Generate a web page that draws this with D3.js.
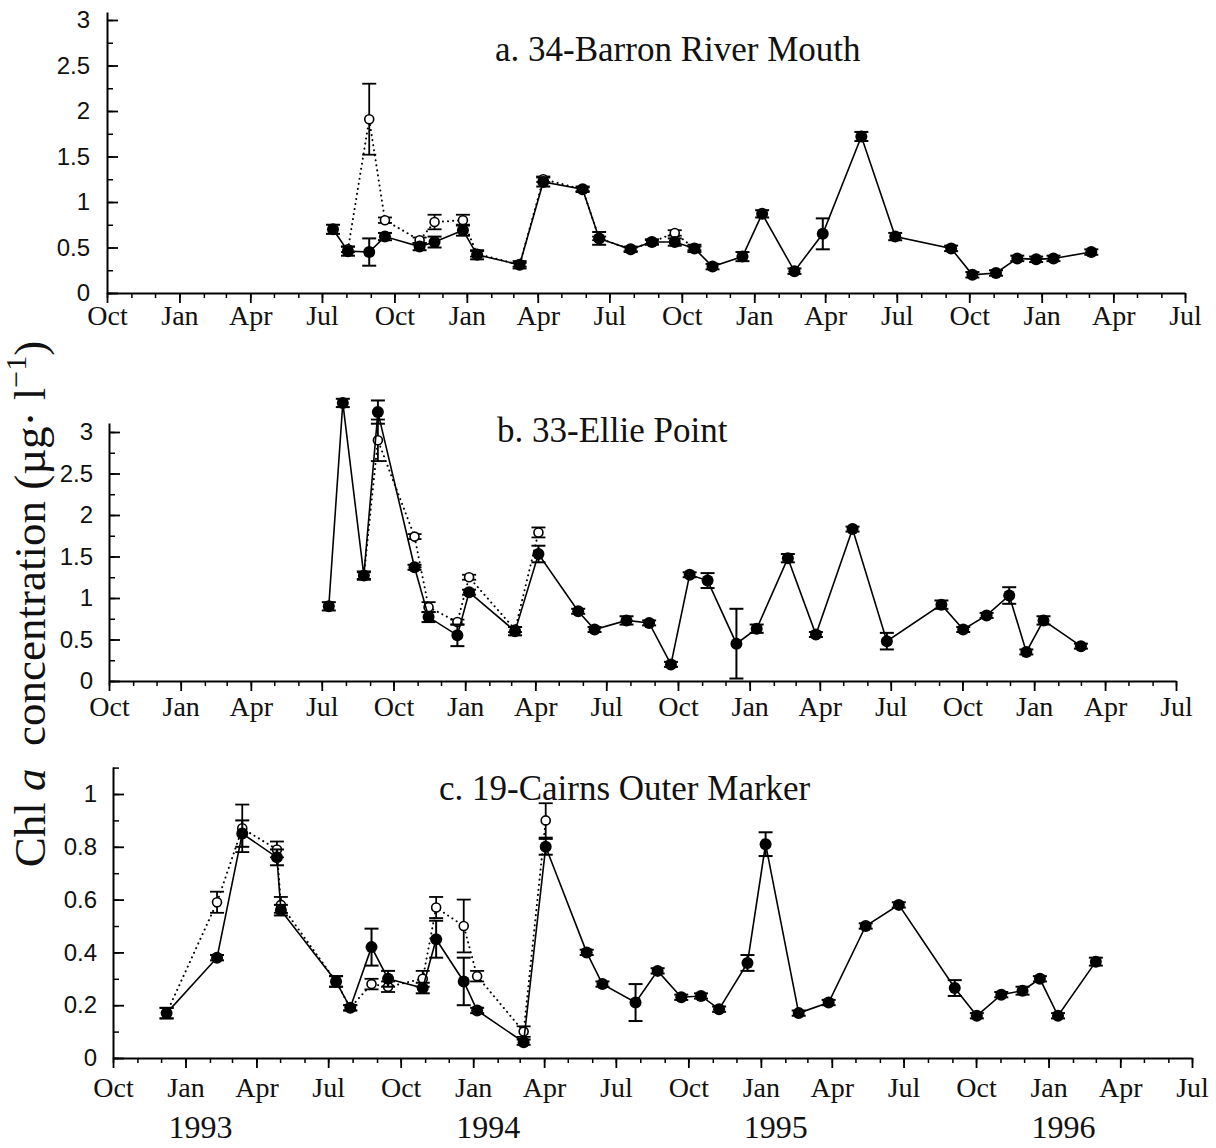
<!DOCTYPE html>
<html><head><meta charset="utf-8">
<script src="https://cdn.jsdelivr.net/npm/d3@7"></script>
<style>body{margin:0;background:#fff}</style>
</head><body><svg id="c" width="1216" height="1148"></svg>
<script>
// ---------- DATA ----------
const panelTitles = ["a. 34-Barron River Mouth", "b. 33-Ellie Point", "c. 19-Cairns Outer Marker"];
const yearLabels = ["1993", "1994", "1995", "1996"];
const yTicksA = [0, 0.5, 1, 1.5, 2, 2.5, 3];
const yTicksB = [0, 0.5, 1, 1.5, 2, 2.5, 3];
const yTicksC = [0, 0.2, 0.4, 0.6, 0.8, 1];

// a. 34-Barron River Mouth (filled = solid line)
const aDates = ["1993-07-15","1993-08-03","1993-08-30","1993-09-19","1993-11-02","1993-11-21","1993-12-27","1994-01-14","1994-03-09","1994-04-08","1994-05-28","1994-06-18","1994-07-28","1994-08-24","1994-09-22","1994-10-17","1994-11-09","1994-12-17","1995-01-11","1995-02-21","1995-03-29","1995-05-17","1995-06-29","1995-09-08","1995-10-05","1995-11-04","1995-12-01","1995-12-25","1996-01-16","1996-03-04"];
const aValues = [0.70,0.46,0.45,0.62,0.51,0.56,0.69,0.42,0.31,1.22,1.14,0.60,0.48,0.56,0.56,0.49,0.29,0.40,0.87,0.24,0.65,1.72,0.62,0.49,0.20,0.22,0.38,0.37,0.38,0.45];
const aErr = [0.05,0.05,0.15,0.04,0.04,0.06,0.06,0.05,0.04,0.05,0.03,0.07,0.03,0.03,0.04,0.04,0.03,0.05,0.04,0.03,0.17,0.05,0.04,0.03,0.03,0.03,0.03,0.03,0.03,0.03];
// a. open symbols (dotted line)
const aOpenDates = ["1993-08-03","1993-08-30","1993-09-19","1993-11-02","1993-11-21","1993-12-27","1994-01-14","1994-03-09","1994-04-08","1994-05-28","1994-06-18","1994-07-28","1994-08-24","1994-09-22","1994-10-17"];
const aOpenValues = [0.48,1.91,0.80,0.58,0.78,0.80,0.43,0.31,1.25,1.14,0.60,0.48,0.56,0.66,0.49];
const aOpenErr = [0.03,0.39,0.03,0.03,0.08,0.06,0.03,0.02,0.03,0.02,0.02,0.02,0.02,0.03,0.02];

// b. 33-Ellie Point
const bDates = ["1993-07-10","1993-07-28","1993-08-24","1993-09-11","1993-10-28","1993-11-15","1993-12-22","1994-01-06","1994-03-06","1994-04-05","1994-05-26","1994-06-16","1994-07-27","1994-08-25","1994-09-22","1994-10-16","1994-11-08","1994-12-15","1995-01-10","1995-02-19","1995-03-27","1995-05-13","1995-06-26","1995-09-04","1995-10-02","1995-11-01","1995-11-30","1995-12-22","1996-01-13","1996-03-01"];
const bValues = [0.90,3.35,1.27,3.24,1.37,0.77,0.55,1.07,0.60,1.53,0.84,0.62,0.73,0.70,0.20,1.28,1.21,0.45,0.63,1.48,0.56,1.83,0.48,0.92,0.62,0.79,1.03,0.35,0.73,0.42];
const bErr = [0.05,0.05,0.05,0.14,0.03,0.06,0.13,0.03,0.05,0.10,0.03,0.03,0.05,0.03,0.03,0.03,0.09,0.42,0.05,0.05,0.03,0.03,0.10,0.05,0.03,0.03,0.10,0.03,0.05,0.03];
const bOpenDates = ["1993-08-24","1993-09-11","1993-10-28","1993-11-15","1993-12-22","1994-01-06","1994-03-06","1994-04-05"];
const bOpenValues = [1.27,2.90,1.74,0.89,0.71,1.25,0.62,1.79];
const bOpenErr = [0.04,0.25,0.03,0.06,0.03,0.03,0.03,0.06];

// c. 19-Cairns Outer Marker
const cDates = ["1992-12-08","1993-02-10","1993-03-14","1993-04-27","1993-05-02","1993-07-11","1993-07-29","1993-08-25","1993-09-15","1993-10-29","1993-11-15","1993-12-20","1994-01-06","1994-03-06","1994-04-03","1994-05-25","1994-06-14","1994-07-26","1994-08-23","1994-09-22","1994-10-17","1994-11-09","1994-12-15","1995-01-07","1995-02-18","1995-03-28","1995-05-14","1995-06-25","1995-09-04","1995-10-02","1995-11-02","1995-11-29","1995-12-21","1996-01-13","1996-03-01"];
const cValues = [0.17,0.38,0.85,0.76,0.56,0.29,0.19,0.42,0.30,0.265,0.45,0.29,0.18,0.06,0.80,0.40,0.28,0.21,0.33,0.23,0.235,0.185,0.36,0.81,0.17,0.21,0.50,0.58,0.265,0.16,0.24,0.255,0.30,0.16,0.365];
const cErr = [0.02,0.01,0.05,0.03,0.02,0.02,0.01,0.07,0.03,0.02,0.07,0.09,0.01,0.01,0.03,0.01,0.01,0.07,0.01,0.01,0.01,0.01,0.03,0.045,0.01,0.01,0.01,0.01,0.03,0.01,0.01,0.015,0.01,0.01,0.015];
const cOpenDates = ["1992-12-08","1993-02-10","1993-03-14","1993-04-27","1993-05-02","1993-07-11","1993-07-29","1993-08-25","1993-09-15","1993-10-29","1993-11-15","1993-12-20","1994-01-06","1994-03-06","1994-04-03"];
const cOpenValues = [0.17,0.59,0.87,0.79,0.58,0.29,0.19,0.28,0.27,0.30,0.57,0.50,0.31,0.10,0.90];
const cOpenErr = [0.02,0.04,0.09,0.03,0.03,0.02,0.01,0.02,0.02,0.03,0.04,0.10,0.02,0.02,0.065];

// ---------- LAYOUT ----------
const parse = d3.timeParse("%Y-%m-%d");
const xStart = new Date(1992, 9, 1), xEnd = new Date(1996, 6, 1);
const serif = "'Liberation Serif', 'Times New Roman', serif";
const sans = "'Liberation Sans', Arial, sans-serif";

const layout = [
  {left:107, right:1185, bottom:293, top:12, unitPx:91, yMinorStep:0.25, yTicks:yTicksA, labelRight:90, xLabelOff:32, titleX:495, titleY:61,
   dates:aDates, values:aValues, err:aErr, oDates:aOpenDates, oValues:aOpenValues, oErr:aOpenErr},
  {left:109, right:1176, bottom:681, top:423, unitPx:83, yMinorStep:0.25, yTicks:yTicksB, labelRight:93, xLabelOff:35, titleX:497, titleY:442,
   dates:bDates, values:bValues, err:bErr, oDates:bOpenDates, oValues:bOpenValues, oErr:bOpenErr},
  {left:113, right:1192, bottom:1058, top:767, unitPx:264, yMinorStep:0.1, yTicks:yTicksC, labelRight:97, xLabelOff:39, titleX:439, titleY:800,
   dates:cDates, values:cValues, err:cErr, oDates:cOpenDates, oValues:cOpenValues, oErr:cOpenErr}
];

const svg = d3.select("#c");
svg.append("rect").attr("width",1216).attr("height",1148).attr("fill","#fff");

let lastX;
layout.forEach((p, i) => {
  const yTop = (p.bottom - p.top) / p.unitPx;
  const x = d3.scaleTime().domain([xStart, xEnd]).range([p.left, p.right]);
  const y = d3.scaleLinear().domain([0, yTop]).range([p.bottom, p.top]);
  lastX = x;
  const g = svg.append("g");

  // x axis minor (monthly)
  const xm = g.append("g").attr("transform", `translate(0,${p.bottom})`)
    .call(d3.axisBottom(x).ticks(d3.timeMonth.every(1)).tickSize(5).tickSizeOuter(0).tickFormat(""));
  xm.select(".domain").remove();
  xm.selectAll("line").attr("stroke-width", 1.5);
  // x axis major (quarterly)
  const xa = g.append("g").attr("transform", `translate(0,${p.bottom})`)
    .call(d3.axisBottom(x).ticks(d3.timeMonth.every(3)).tickSize(10).tickSizeOuter(0).tickFormat(d3.timeFormat("%b")));
  xa.select(".domain").attr("stroke-width", 2);
  xa.selectAll("line").attr("stroke-width", 1.8);
  xa.selectAll("text").attr("y", p.xLabelOff).attr("dy", null)
    .attr("font-family", serif).attr("font-size", 28).attr("fill", "#111");

  // y axis minor
  const ym = g.append("g").attr("transform", `translate(${p.left},0)`)
    .call(d3.axisLeft(y).tickValues(d3.range(0, yTop, p.yMinorStep)).tickSize(-6).tickSizeOuter(0).tickFormat(""));
  ym.select(".domain").remove();
  ym.selectAll("line").attr("stroke-width", 1.5);
  // y axis major
  const ya = g.append("g").attr("transform", `translate(${p.left},0)`)
    .call(d3.axisLeft(y).tickValues(p.yTicks).tickSize(-11).tickSizeOuter(0).tickPadding(p.left - p.labelRight).tickFormat(d3.format("")));
  ya.select(".domain").attr("stroke-width", 2);
  ya.selectAll("line").attr("stroke-width", 1.8);
  ya.selectAll("text").attr("font-family", sans).attr("font-size", 24).attr("fill", "#111");

  // title
  g.append("text").attr("x", p.titleX).attr("y", p.titleY).attr("font-family", serif)
    .attr("font-size", 35).attr("fill", "#111").text(panelTitles[i]);

  const filled = p.dates.map((d, k) => ({d: parse(d), v: p.values[k], e: p.err[k]}));
  const open = p.oDates.map((d, k) => ({d: parse(d), v: p.oValues[k], e: p.oErr[k]}));
  const line = d3.line().x(d => x(d.d)).y(d => y(d.v));

  function errBars(data, sw) {
    const eb = g.append("g").attr("stroke", "#000").attr("stroke-width", sw);
    data.forEach(d => {
      const lo = Math.max(0, d.v - d.e), hi = d.v + d.e, cx = x(d.d);
      eb.append("line").attr("x1", cx).attr("x2", cx).attr("y1", y(lo)).attr("y2", y(hi));
      eb.append("line").attr("x1", cx - 7).attr("x2", cx + 7).attr("y1", y(hi)).attr("y2", y(hi));
      if (d.v - d.e > 0) eb.append("line").attr("x1", cx - 7).attr("x2", cx + 7).attr("y1", y(lo)).attr("y2", y(lo));
    });
  }

  // open series (dotted)
  g.append("path").datum(open).attr("d", line).attr("fill", "none").attr("stroke", "#000")
    .attr("stroke-width", 2).attr("stroke-dasharray", "0.1,5").attr("stroke-linecap", "round");
  errBars(open, 1.8);
  g.append("g").selectAll("circle").data(open).join("circle")
    .attr("cx", d => x(d.d)).attr("cy", d => y(d.v)).attr("r", 4.5)
    .attr("fill", "#fff").attr("stroke", "#000").attr("stroke-width", 1.6);

  // filled series (solid)
  g.append("path").datum(filled).attr("d", line).attr("fill", "none").attr("stroke", "#000").attr("stroke-width", 1.6);
  errBars(filled, 2);
  g.append("g").selectAll("circle").data(filled).join("circle")
    .attr("cx", d => x(d.d)).attr("cy", d => y(d.v)).attr("r", 6).attr("fill", "#000");
});

// year labels under panel c
svg.append("g").selectAll("text").data(yearLabels).join("text")
  .attr("x", d => lastX(new Date(+d, 0, 20))).attr("y", 1138).attr("text-anchor", "middle")
  .attr("font-family", serif).attr("font-size", 32).attr("fill", "#111").text(d => d);

// y axis title
const yt = svg.append("text").attr("transform", "translate(45,604) rotate(-90)")
  .attr("text-anchor", "middle").attr("font-family", serif).attr("font-size", 45).attr("fill", "#111");
yt.append("tspan").text("Chl ");
yt.append("tspan").attr("font-style", "italic").text("a");
yt.append("tspan").text("\u00a0 concentration (\u00b5g\u00b7 l");
yt.append("tspan").attr("font-size", 30).attr("dy", -19).text("\u22121");
yt.append("tspan").attr("dy", 19).text(")");
</script>
</body></html>
